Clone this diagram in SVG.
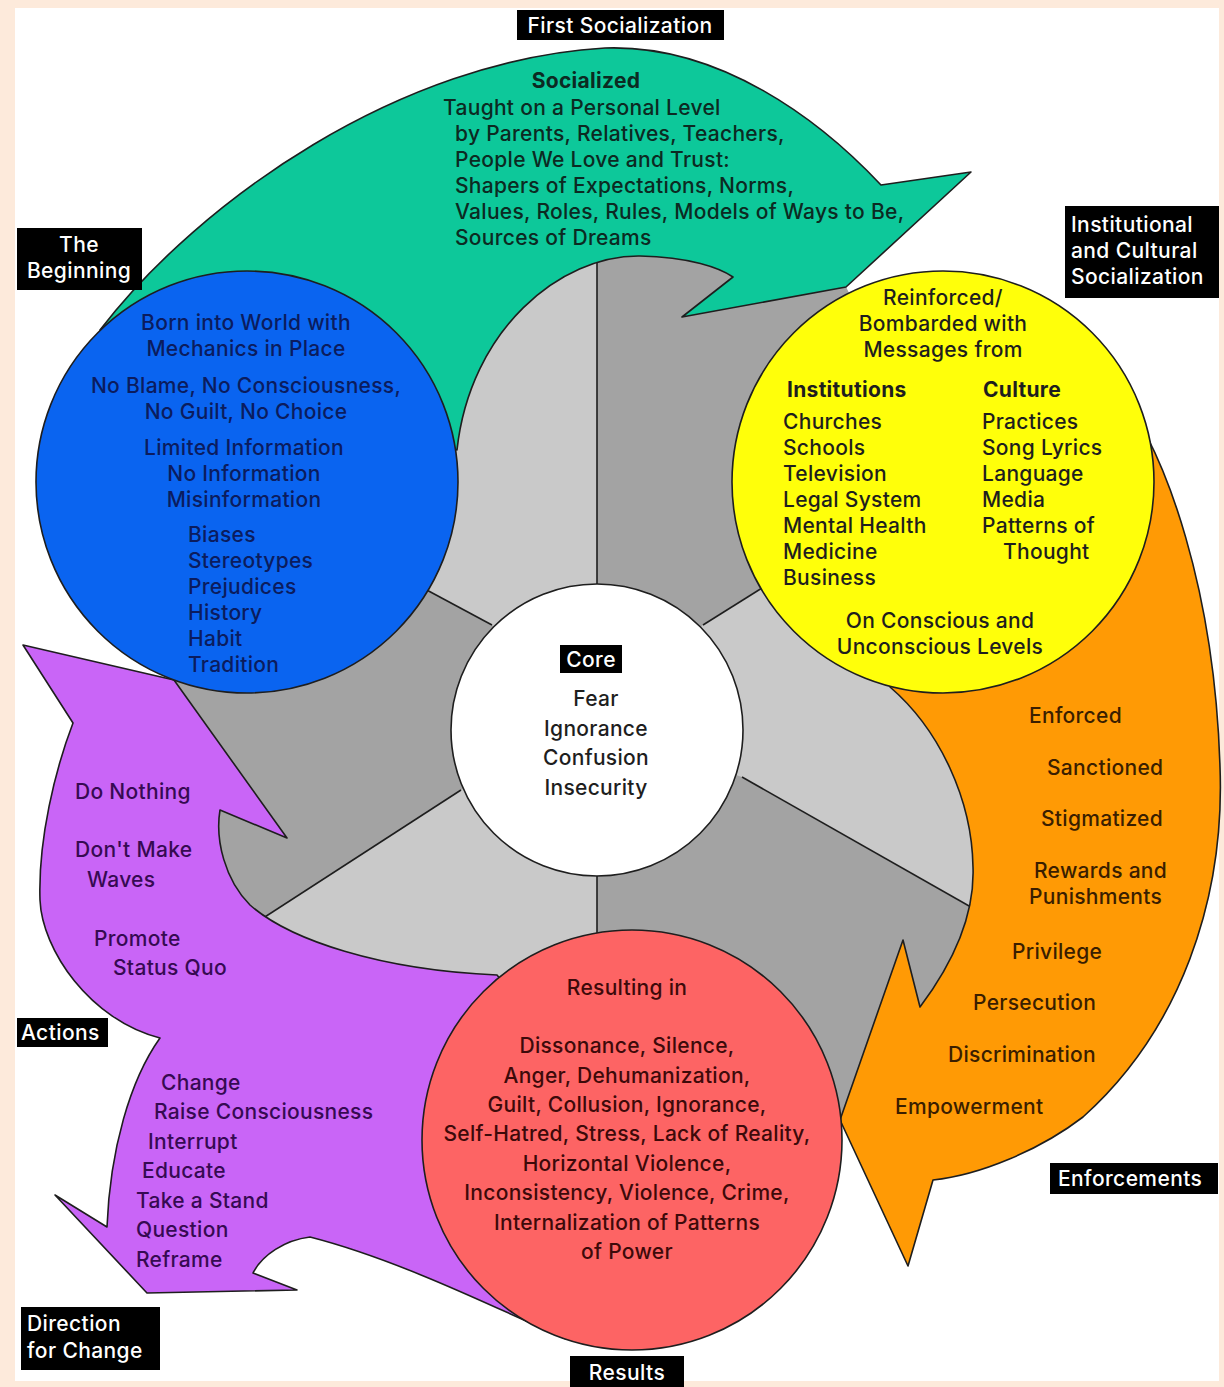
<svg xmlns="http://www.w3.org/2000/svg" width="1224" height="1387" viewBox="0 0 1224 1387">
<defs>
<style>
.sh{stroke:#1e1e1e;stroke-width:1.6;stroke-linejoin:round}
.t{font-family:Inter,"Open Sans",sans-serif;font-size:21px;font-weight:500;letter-spacing:0.3px}
.c{text-anchor:middle}
.b{font-weight:bold}
.lb{fill:#000}
.lt{font-family:Inter,"Open Sans",sans-serif;font-size:21px;font-weight:500;letter-spacing:0.4px;fill:#fff}
.div{stroke:#1e1e1e;stroke-width:1.6;fill:none}
</style>
<clipPath id="grayClip">
<path d="M457,450 C470,330 560,255 640,256 C690,257 720,268 733,277 L682,317 L846,287 L943,482 L890,687 C940,730 972,800 973,867 C975,920 950,967 920,1007 L903,940 L840,1120 L632,1140 L497,975 C380,970 290,940 250,905 C225,880 215,840 220,810 L287,838 L174,680 L247,482 Z"/>
</clipPath>
</defs>
<rect x="0" y="0" width="1224" height="1387" fill="#fdeadb"/>
<rect x="15" y="8" width="1204" height="1373" fill="#ffffff"/>

<g id="ring">
<g clip-path="url(#grayClip)">
<rect x="0" y="0" width="1224" height="1387" fill="#c9c9c9"/>
<polygon fill="#a3a3a3" points="597,730 597,-100 1300,-100 1300,246 703,625"/>
<polygon fill="#a3a3a3" points="597,730 742,777 1300,1095 1300,1500 597,1500"/>
<polygon fill="#a3a3a3" points="597,730 461,790 -100,1153 -100,310 492,625"/>
</g>
</g>

<g id="connectors">
<line class="div" x1="597" y1="730" x2="597" y2="245"/>
<line class="div" x1="703" y1="625" x2="778" y2="578"/>
<line class="div" x1="742" y1="777" x2="992" y2="919"/>
<line class="div" x1="597" y1="730" x2="597" y2="950"/>
<line class="div" x1="461" y1="790" x2="240" y2="933"/>
<line class="div" x1="492" y1="625" x2="410" y2="581"/>
</g>

<g id="first-socialization-arrow">
<path class="sh" fill="#0dc89a" d="M100,330 C200,200 400,60 605,48 C720,44 820,120 881,185 L971,172 L846,287 L682,317 L733,277 C720,268 690,257 640,256 C560,255 470,330 457,450 Z"/>
</g>

<g id="actions-arrow">
<path class="sh" fill="#c965f7" d="M174,680 L23,645 L73,723 C55,770 38,840 40,900 C42,950 90,1020 160,1038 C130,1080 110,1150 107,1227 L55,1195 L147,1293 L297,1290 L253,1273 C262,1255 285,1240 310,1237 C400,1260 500,1310 566,1339 L632,1140 L497,975 C380,970 290,940 250,905 C225,880 215,840 220,810 L287,838 Z"/>
</g>

<g id="enforcements-arrow">
<path class="sh" fill="#ff9a05" d="M1110,380 C1170,450 1215,600 1220,767 C1225,900 1180,1030 1083,1117 C1040,1150 980,1175 933,1180 L908,1266 L840,1120 L903,940 L920,1007 C950,967 975,920 973,867 C972,800 940,730 890,687 L880,600 Z"/>
</g>

<g id="beginning-circle">
<circle class="sh" cx="247" cy="482" r="211" fill="#0a64f0"/>
</g>
<g id="institutional-circle">
<circle class="sh" cx="943" cy="482" r="211" fill="#ffff0a"/>
</g>
<g id="results-circle">
<circle class="sh" cx="632" cy="1140" r="210" fill="#fd6464"/>
</g>
<g id="core-circle">
<circle class="sh" cx="597" cy="730" r="146" fill="#ffffff"/>
</g>

<g id="green-text" class="t" fill="#0c2a22">
<text x="586" y="88" class="c b">Socialized</text>
<text x="443" y="115">Taught on a Personal Level</text>
<text x="455" y="141">by Parents, Relatives, Teachers,</text>
<text x="455" y="167">People We Love and Trust:</text>
<text x="455" y="193">Shapers of Expectations, Norms,</text>
<text x="455" y="219">Values, Roles, Rules, Models of Ways to Be,</text>
<text x="455" y="245">Sources of Dreams</text>
</g>

<g id="blue-text" class="t" fill="#0b1c5e">
<text x="246" y="330" class="c">Born into World with</text>
<text x="246" y="356" class="c">Mechanics in Place</text>
<text x="246" y="393" class="c">No Blame, No Consciousness,</text>
<text x="246" y="419" class="c">No Guilt, No Choice</text>
<text x="244" y="455" class="c">Limited Information</text>
<text x="244" y="481" class="c">No Information</text>
<text x="244" y="507" class="c">Misinformation</text>
<text x="188" y="542">Biases</text>
<text x="188" y="568">Stereotypes</text>
<text x="188" y="594">Prejudices</text>
<text x="188" y="620">History</text>
<text x="188" y="646">Habit</text>
<text x="188" y="672">Tradition</text>
</g>

<g id="yellow-text" class="t" fill="#1e1e1e">
<text x="943" y="305" class="c">Reinforced/</text>
<text x="943" y="331" class="c">Bombarded with</text>
<text x="943" y="357" class="c">Messages from</text>
<text x="787" y="397" class="b">Institutions</text>
<text x="983" y="397" class="b">Culture</text>
<text x="783" y="429">Churches</text>
<text x="783" y="455">Schools</text>
<text x="783" y="481">Television</text>
<text x="783" y="507">Legal System</text>
<text x="783" y="533">Mental Health</text>
<text x="783" y="559">Medicine</text>
<text x="783" y="585">Business</text>
<text x="982" y="429">Practices</text>
<text x="982" y="455">Song Lyrics</text>
<text x="982" y="481">Language</text>
<text x="982" y="507">Media</text>
<text x="982" y="533">Patterns of</text>
<text x="1003" y="559">Thought</text>
<text x="940" y="628" class="c">On Conscious and</text>
<text x="940" y="654" class="c">Unconscious Levels</text>
</g>

<g id="orange-text" class="t" fill="#3a1e00">
<text x="1029" y="723">Enforced</text>
<text x="1047" y="775">Sanctioned</text>
<text x="1041" y="826">Stigmatized</text>
<text x="1034" y="878">Rewards and</text>
<text x="1029" y="904">Punishments</text>
<text x="1012" y="959">Privilege</text>
<text x="973" y="1010">Persecution</text>
<text x="948" y="1062">Discrimination</text>
<text x="895" y="1114">Empowerment</text>
</g>

<g id="red-text" class="t c" fill="#3d0a0a">
<text x="627" y="995">Resulting in</text>
<text x="627" y="1053">Dissonance, Silence,</text>
<text x="627" y="1083">Anger, Dehumanization,</text>
<text x="627" y="1112">Guilt, Collusion, Ignorance,</text>
<text x="627" y="1141">Self-Hatred, Stress, Lack of Reality,</text>
<text x="627" y="1171">Horizontal Violence,</text>
<text x="627" y="1200">Inconsistency, Violence, Crime,</text>
<text x="627" y="1230">Internalization of Patterns</text>
<text x="627" y="1259">of Power</text>
</g>

<g id="purple-text" class="t" fill="#360a52">
<text x="75" y="799">Do Nothing</text>
<text x="75" y="857">Don't Make</text>
<text x="87" y="887">Waves</text>
<text x="94" y="946">Promote</text>
<text x="113" y="975">Status Quo</text>
<text x="161" y="1090">Change</text>
<text x="154" y="1119">Raise Consciousness</text>
<text x="148" y="1149">Interrupt</text>
<text x="142" y="1178">Educate</text>
<text x="136" y="1208">Take a Stand</text>
<text x="136" y="1237">Question</text>
<text x="136" y="1267">Reframe</text>
</g>

<g id="core-text" class="t c" fill="#1e1e1e">
<text x="596" y="706">Fear</text>
<text x="596" y="736">Ignorance</text>
<text x="596" y="765">Confusion</text>
<text x="596" y="795">Insecurity</text>
</g>

<g id="label-first">
<rect class="lb" x="517" y="10" width="207" height="30"/>
<text class="lt c" x="620" y="33">First Socialization</text>
</g>
<g id="label-beginning">
<rect class="lb" x="17" y="228" width="125" height="62"/>
<text class="lt c" x="79" y="252">The</text>
<text class="lt c" x="79" y="278">Beginning</text>
</g>
<g id="label-institutional">
<rect class="lb" x="1065" y="206" width="154" height="92"/>
<text class="lt" x="1071" y="232">Institutional</text>
<text class="lt" x="1071" y="258">and Cultural</text>
<text class="lt" x="1071" y="284">Socialization</text>
</g>
<g id="label-core">
<rect class="lb" x="560" y="645" width="62" height="28"/>
<text class="lt c" x="591" y="667">Core</text>
</g>
<g id="label-actions">
<rect class="lb" x="17" y="1018" width="91" height="29"/>
<text class="lt" x="21" y="1040">Actions</text>
</g>
<g id="label-enforcements">
<rect class="lb" x="1050" y="1163" width="168" height="31"/>
<text class="lt" x="1058" y="1186">Enforcements</text>
</g>
<g id="label-direction">
<rect class="lb" x="21" y="1307" width="139" height="63"/>
<text class="lt" x="27" y="1331">Direction</text>
<text class="lt" x="27" y="1358">for Change</text>
</g>
<g id="label-results">
<rect class="lb" x="570" y="1356" width="114" height="31"/>
<text class="lt c" x="627" y="1380">Results</text>
</g>
</svg>
